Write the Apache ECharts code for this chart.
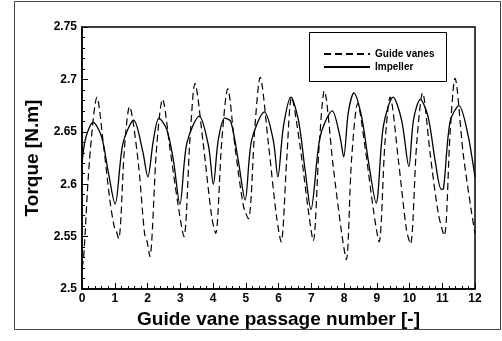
<!DOCTYPE html>
<html><head><meta charset="utf-8">
<script src="https://cdn.jsdelivr.net/npm/echarts@6/dist/echarts.min.js"></script>
<style>html,body{margin:0;padding:0;background:#fff}#c{width:502px;height:341px}</style>
</head><body><div id="c"></div>
<script>
var xTicks = [0,1,2,3,4,5,6,7,8,9,10,11,12];
var yTicks = [2.5,2.55,2.6,2.65,2.7,2.75];
var impellerX = [0,0.12,0.34,0.59,0.79,1.01,1.25,1.58,1.85,2.01,2.18,2.35,2.59,2.79,2.99,3.20,3.58,3.86,4.01,4.16,4.36,4.54,4.77,4.98,5.18,5.57,5.84,5.98,6.15,6.38,6.61,6.81,6.99,7.27,7.64,7.88,7.99,8.13,8.30,8.54,8.74,8.98,9.20,9.50,9.76,9.98,10.12,10.33,10.57,10.78,10.97,11.04,11.24,11.51,11.80,12.0];
var impellerY = [2.620,2.645,2.659,2.646,2.614,2.581,2.639,2.661,2.632,2.607,2.642,2.663,2.652,2.623,2.581,2.639,2.665,2.637,2.600,2.642,2.663,2.660,2.623,2.585,2.642,2.669,2.642,2.607,2.655,2.683,2.661,2.614,2.576,2.645,2.670,2.645,2.626,2.668,2.687,2.664,2.623,2.582,2.655,2.683,2.661,2.617,2.661,2.681,2.664,2.623,2.595,2.596,2.660,2.675,2.645,2.607];
var guideX = [0,0.05,0.23,0.46,0.64,0.85,0.98,1.04,1.12,1.30,1.45,1.71,1.91,1.99,2.07,2.28,2.46,2.69,2.94,3.11,3.30,3.45,3.70,3.96,4.08,4.27,4.45,4.67,4.93,5.08,5.28,5.44,5.69,5.94,6.08,6.25,6.40,6.66,6.91,7.06,7.24,7.40,7.67,7.93,8.07,8.23,8.42,8.64,8.90,9.07,9.25,9.41,9.66,9.91,10.03,10.22,10.40,10.63,10.88,11.06,11.24,11.39,11.64,11.90,12.0];
var guideY = [2.520,2.530,2.623,2.683,2.642,2.585,2.560,2.556,2.548,2.636,2.674,2.623,2.553,2.545,2.531,2.636,2.681,2.633,2.579,2.550,2.645,2.696,2.639,2.569,2.553,2.642,2.691,2.636,2.579,2.567,2.655,2.702,2.639,2.569,2.545,2.623,2.683,2.636,2.575,2.546,2.636,2.689,2.617,2.553,2.528,2.623,2.677,2.636,2.575,2.545,2.639,2.683,2.623,2.556,2.543,2.639,2.687,2.629,2.572,2.551,2.649,2.701,2.629,2.572,2.553];

function pairs(xs, ys){ return xs.map(function(x,i){ return [x, ys[i]]; }); }
var FONT = 'Liberation Sans, Arial, Helvetica, sans-serif';
var chart = echarts.init(document.getElementById('c'), null, {renderer:'canvas'});
chart.setOption({
  animation: false,
  backgroundColor: '#fff',
  grid: {left: 82, right: 27, top: 27, bottom: 52, show: true, borderColor: '#000', borderWidth: 1.5, backgroundColor: 'transparent'},
  xAxis: {
    type: 'value', min: xTicks[0], max: xTicks[xTicks.length-1], interval: 1,
    name: 'Guide vane passage number [-]', nameLocation: 'middle', nameGap: 17,
    nameTextStyle: {fontFamily: FONT, fontWeight: 'bold', fontSize: 19, color: '#000'},
    axisLine: {show: true, lineStyle: {color: '#000', width: 1.5}},
    axisTick: {show: true, inside: true, length: 6, lineStyle: {color: '#000', width: 1}},
    minorTick: {show: true, splitNumber: 5, length: 3, lineStyle: {color: '#000', width: 1}},
    axisLabel: {fontFamily: FONT, fontWeight: 'bold', fontSize: 12, color: '#000', margin: 4},
    splitLine: {show: false}
  },
  yAxis: {
    type: 'value', min: yTicks[0], max: yTicks[yTicks.length-1], interval: 0.05,
    name: 'Torque [N.m]', nameLocation: 'middle', nameGap: 34,
    nameTextStyle: {fontFamily: FONT, fontWeight: 'bold', fontSize: 19, color: '#000'},
    axisLine: {show: true, lineStyle: {color: '#000', width: 1.5}},
    axisTick: {show: true, inside: true, length: 6, lineStyle: {color: '#000', width: 1}},
    minorTick: {show: true, splitNumber: 5, length: 3, lineStyle: {color: '#000', width: 1}},
    axisLabel: {fontFamily: FONT, fontWeight: 'bold', fontSize: 12, color: '#000', margin: 5},
    splitLine: {show: false}
  },
  legend: {
    left: 318, top: 44, orient: 'vertical', itemWidth: 46, itemHeight: 8, itemGap: 3,
    itemStyle: {opacity: 0, borderWidth: 0},
    textStyle: {fontFamily: FONT, fontWeight: 'bold', fontSize: 10, color: '#000'},
    data: ['Guide vanes', 'Impeller']
  },
  graphic: [
    {type: 'rect', shape: {x: 309.5, y: 32.5, width: 137, height: 49}, style: {fill: 'none', stroke: '#000', lineWidth: 1}, z: 100},
    {type: 'rect', shape: {x: 14.5, y: 1.5, width: 486, height: 328}, style: {fill: 'none', stroke: '#444', lineWidth: 1}, z: 100}
  ],
  series: [
    {name: 'Guide vanes', type: 'line', data: pairs(guideX, guideY), symbol: 'none', smooth: 0.3,
     lineStyle: {color: '#000', width: 1.2, type: [7, 4]}, itemStyle: {color: '#000'}},
    {name: 'Impeller', type: 'line', data: pairs(impellerX, impellerY), symbol: 'none', smooth: 0.3,
     lineStyle: {color: '#000', width: 1.3, type: 'solid'}, itemStyle: {color: '#000'}}
  ]
});
</script></body></html>
